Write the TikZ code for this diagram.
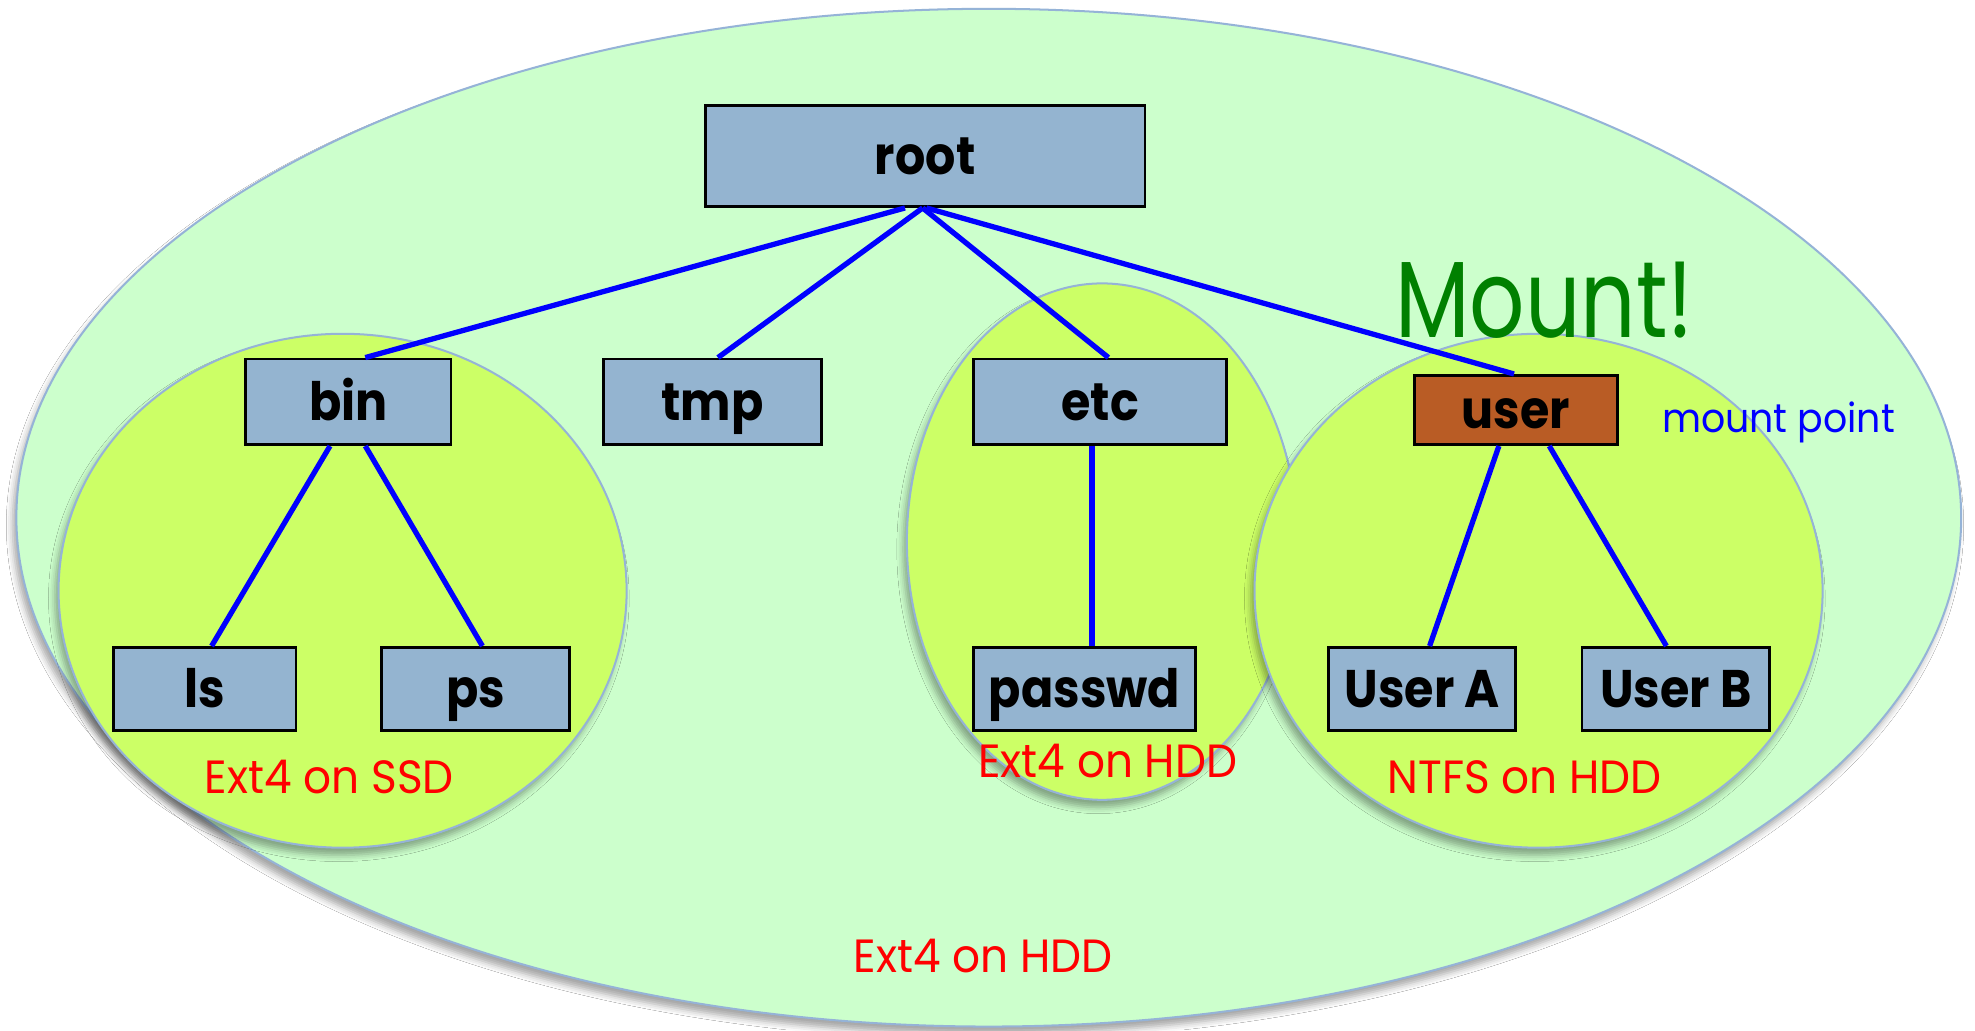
\documentclass[tikz,border=0pt]{standalone}
\usepackage{fontspec}
\setmainfont{Poppins}
\newfontfamily\boxfont{Poppins}[FakeStretch=0.9]
\newfontfamily\labelfont{Poppins}[FakeStretch=0.94]
\newfontfamily\bigfont{Poppins}[FakeStretch=0.8]
\usetikzlibrary{calc,shadows.blur}

\definecolor{diskouter}{RGB}{204,255,204}
\definecolor{diskinner}{RGB}{204,255,102}
\definecolor{rim}{RGB}{149,179,215}
\definecolor{dirfill}{RGB}{148,180,208}
\definecolor{mountfill}{RGB}{185,92,37}
\definecolor{mountgreen}{RGB}{0,128,0}

\tikzset{
  fsregion/.style={fill=#1, draw=rim, line width=0.8pt},
  fsshadow/.style={blur shadow={shadow xshift=-1.5pt, shadow yshift=-3pt,
      shadow blur radius=2.5pt, shadow opacity=35}},
  dirbox/.style={draw=black, line width=1.1pt, fill=dirfill, inner sep=0pt,
      text height=14.8pt, text depth=0pt,
      font=\boxfont\bfseries\fontsize{21}{21}\selectfont},
  link/.style={draw=blue, line width=2.1pt},
  fslabel/.style={text=red, anchor=base, inner sep=0pt,
      font=\labelfont\fontsize{18.5}{18.5}\selectfont},
}

\begin{document}
\begin{tikzpicture}[x=0.5pt,y=-0.5pt]
\useasboundingbox (0,0) rectangle (1568,818);
\fill[white] (0,0) rectangle (1568,818);

% file system regions
\path[fsregion=diskouter, fsshadow] (785,411) ellipse [x radius=386pt, y radius=202pt];
\path[fsregion=diskinner, fsshadow] (272,469) ellipse [x radius=112.75pt, y radius=102pt];
\path[fsregion=diskinner, fsshadow] (875,430) ellipse [x radius=77.5pt, y radius=102.5pt];
\path[fsregion=diskinner, fsshadow] (1221.5,469) ellipse [x radius=112.75pt, y radius=102pt];

% directories
\node[dirbox, minimum width=174.5pt, minimum height=40pt] (root) at (734.5,124) {root};
\node[dirbox, minimum width=81.5pt, minimum height=34pt] (bin) at (276.5,319) {bin};
\node[dirbox, minimum width=86.5pt, minimum height=34pt] (tmp) at (565.5,319) {tmp};
\node[dirbox, minimum width=100.5pt, minimum height=34pt] (etc) at (873.5,319) {etc};
\node[dirbox, fill=mountfill, minimum width=80.5pt, minimum height=27.5pt] (user) at (1203.5,325.5) {user};
\node[dirbox, minimum width=72.5pt, minimum height=33pt] (ls) at (162.5,547) {ls};
\node[dirbox, minimum width=74.5pt, minimum height=33pt] (ps) at (377.5,547) {ps};
\node[dirbox, minimum width=88pt, minimum height=33pt] (passwd) at (861,547) {passwd};
\node[dirbox, minimum width=74pt, minimum height=33pt] (usera) at (1129,547) {User A};
\node[dirbox, minimum width=74.5pt, minimum height=33pt] (userb) at (1330.5,547) {User B};

% tree edges
\draw[link] ($(root.south)+(-16,0)$) -- ($(bin.north)+(13.5,0)$);
\draw[link] ($(root.south)+(-2,0)$) -- ($(tmp.north)+(4.5,0)$);
\draw[link] ($(root.south)+(-2,0)$) -- ($(etc.north)+(6.5,0)$);
\draw[link] ($(root.south)+(1,0)$) -- ($(user.north)+(-1.5,0)$);
\draw[link] ($(bin.south)+(-14.5,0)$) -- ($(ls.north)+(5.5,0)$);
\draw[link] ($(bin.south)+(13.5,0)$) -- ($(ps.north)+(5.5,0)$);
\draw[link] ($(etc.south)+(-6.5,0)$) -- ($(passwd.north)+(6,0)$);
\draw[link] ($(user.south)+(-13.5,0)$) -- ($(usera.north)+(6,0)$);
\draw[link] ($(user.south)+(26.5,0)$) -- ($(userb.north)+(-7.5,0)$);

% labels
\node[anchor=base, inner sep=0pt, text=mountgreen, font=\bigfont\fontsize{43}{43}\selectfont] (mount) at (1226,268) {Mount!};
\node[anchor=base, inner sep=0pt, text=blue, font=\labelfont\fontsize{16}{16}\selectfont] (mpoint) at (1412,343) {mount point};
\node[fslabel] (ssd) at (261.5,630) {Ext4 on SSD};
\node[fslabel] (hddetc) at (879.5,617) {Ext4 on HDD};
\node[fslabel] (ntfs) at (1210.5,630) {NTFS on HDD};
\node[fslabel] (hddroot) at (780.5,772) {Ext4 on HDD};
\end{tikzpicture}
\end{document}
